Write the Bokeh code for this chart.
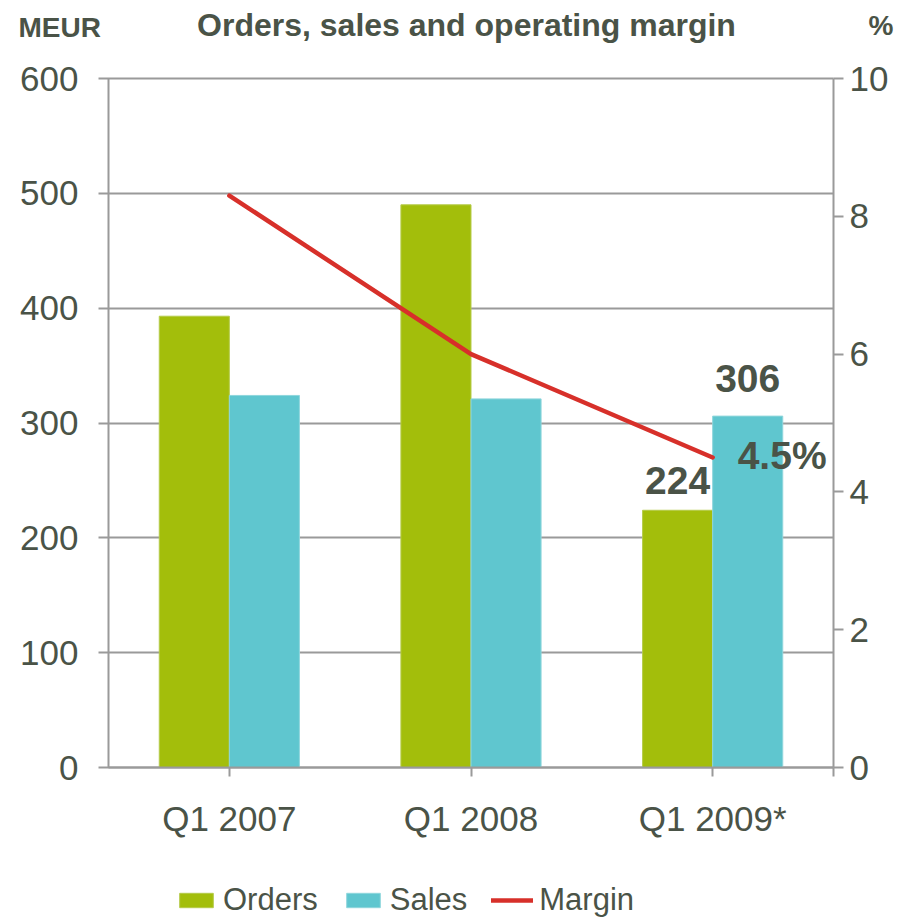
from bokeh.plotting import figure
from bokeh.models import (ColumnDataSource, Range1d, LinearAxis, Label,
                          Legend, LegendItem, FixedTicker)
from bokeh.transform import dodge
from bokeh.core.properties import value
from bokeh.embed import file_html
from bokeh.resources import INLINE

# ---- data ----
categories = ["Q1 2007", "Q1 2008", "Q1 2009*"]
orders = [393, 490, 224]
sales = [324, 321, 306]
margin = [8.3, 6.0, 4.5]
left_ticks = [0, 100, 200, 300, 400, 500, 600]
right_ticks = [0, 2, 4, 6, 8, 10]
series_names = ["Orders", "Sales", "Margin"]

TXT = "#4a5347"
GRID = "#9a9a9a"
FONT = "Liberation Sans"
C_ORD = "#a3be0b"
C_SAL = "#5fc6cf"
C_MAR = "#d7302a"

W, H = 920, 919
# plot-area placement inside the canvas (pixels)
PL, PR, PT, PB = 108, 833, 78, 767
n = len(categories)
ymax, pmax = left_ticks[-1], right_ticks[-1]
ux = (PR - PL) / n                      # px per category
uy = (PB - PT) / ymax                   # px per MEUR
up = (PB - PT) / pmax                   # px per %
x_lo, x_hi = -0.5, n - 0.5
x_range = Range1d(x_lo - PL / ux, x_hi + (W - PR) / ux)
y_range = Range1d(-(H - PB) / uy, ymax + PT / uy)
p_range = Range1d(-(H - PB) / up, pmax + PT / up)

idx = list(range(n))
src = ColumnDataSource(dict(x=idx, orders=orders, sales=sales, margin=margin))

p = figure(width=W, height=H, x_range=x_range, y_range=y_range,
           output_backend="svg", toolbar_location=None,
           x_axis_type=None, y_axis_type=None, min_border=0)
p.outline_line_color = None
p.extra_y_ranges = {"pct": p_range}

# bars and line
r_orders = p.vbar(x=dodge("x", -0.145), top="orders", width=0.29, source=src,
                  fill_color=C_ORD, line_color="#b5cb4a", line_width=1)
r_sales = p.vbar(x=dodge("x", 0.145), top="sales", width=0.29, source=src,
                 fill_color=C_SAL, line_color="#8fd6dc", line_width=1)
r_margin = p.line(x="x", y="margin", source=src, y_range_name="pct",
                  line_color=C_MAR, line_width=4.5, line_cap="round")

def style_axis(ax, standoff, tick_out, tick_in=0):
    ax.axis_line_color = GRID
    ax.axis_line_width = 2
    ax.major_tick_line_color = GRID
    ax.major_tick_line_width = 2
    ax.major_tick_out = tick_out
    ax.major_tick_in = tick_in
    ax.minor_tick_line_color = None
    ax.major_label_standoff = standoff
    ax.major_label_text_font = FONT
    ax.major_label_text_font_size = "35px"
    ax.major_label_text_color = TXT

# left axis: its inward ticks span the plot area and act as the horizontal grid
la = LinearAxis(fixed_location=x_lo, bounds=(0, ymax), ticker=FixedTicker(ticks=left_ticks),
                level="underlay")
style_axis(la, 20, 10, tick_in=PR - PL)
p.add_layout(la, "left")

ra = LinearAxis(y_range_name="pct", fixed_location=x_hi, bounds=(0, pmax),
                ticker=FixedTicker(ticks=right_ticks))
style_axis(ra, 6, 10)
p.add_layout(ra, "right")

overrides = {i: c for i, c in zip(idx, categories)}
overrides[x_hi] = ""
ba = LinearAxis(fixed_location=0, bounds=(x_lo, x_hi),
                ticker=FixedTicker(ticks=idx + [x_hi]), major_label_overrides=overrides)
style_axis(ba, 22, 9)
p.add_layout(ba, "below")

# data labels for the last quarter
lab_src = ColumnDataSource(dict(x=[idx[-1]], o=[orders[-1]], s=[sales[-1]], m=[margin[-1]],
                                ot=[str(orders[-1])], st=[str(sales[-1])],
                                mt=[f"{margin[-1]}%"]))
common = dict(source=lab_src, text_font=value(FONT), text_font_style="bold",
              text_font_size="39px", text_color=TXT)
p.text(x=dodge("x", -0.145), y="o", text="ot",
       text_align="center", text_baseline="alphabetic", y_offset=-30, **common)
p.text(x=dodge("x", 0.145), y="s", text="st",
       text_align="center", text_baseline="alphabetic", y_offset=-38, **common)
p.text(x="x", y="m", text="mt", y_range_name="pct",
       text_align="left", text_baseline="middle", x_offset=25, y_offset=-2, **common)

# headings
p.add_layout(Label(x=466, y=H - 24, x_units="screen", y_units="screen",
                   text="Orders, sales and operating margin", text_align="center",
                   text_baseline="alphabetic", text_font=FONT, text_font_style="bold",
                   text_font_size="32px", text_color=TXT))
p.add_layout(Label(x=18, y=H - 27, x_units="screen", y_units="screen", text="MEUR",
                   text_align="left", text_baseline="alphabetic", text_font=FONT,
                   text_font_style="bold", text_font_size="28px", text_color=TXT))
p.add_layout(Label(x=868, y=H - 25, x_units="screen", y_units="screen", text="%",
                   text_align="left", text_baseline="alphabetic", text_font=FONT,
                   text_font_style="bold", text_font_size="28px", text_color=TXT))

# legend
legend = Legend(items=[LegendItem(label=series_names[0], renderers=[r_orders]),
                       LegendItem(label=series_names[1], renderers=[r_sales]),
                       LegendItem(label=series_names[2], renderers=[r_margin])],
                orientation="horizontal", location=(175, 1),
                glyph_width=42, glyph_height=18, label_standoff=6, spacing=24,
                padding=0, margin=0, border_line_color=None, background_fill_alpha=0,
                label_text_font=FONT, label_text_font_size="31px",
                label_text_color=TXT)
p.add_layout(legend)

open("out.html", "w").write(file_html(p, INLINE))
